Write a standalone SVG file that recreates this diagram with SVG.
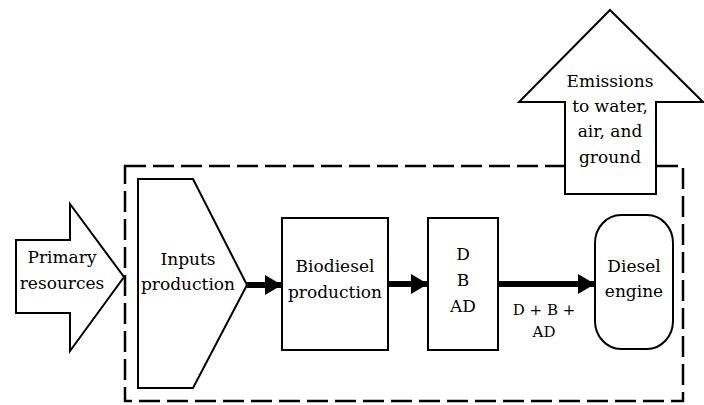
<svg xmlns="http://www.w3.org/2000/svg" width="704" height="405" viewBox="0 0 704 405">
<style>
.s{fill:#fff;stroke:#000;stroke-width:2}
.t{font-family:'DejaVu Serif','Noto Serif','Liberation Serif',serif;font-size:17px;fill:#000;text-anchor:middle}
.sm{font-size:15px}
.c{stroke:#000;stroke-width:6;fill:none}
.dash{fill:none;stroke:#000;stroke-width:2.5;stroke-dasharray:21 7}
</style>
<defs>
<marker id="ah" markerUnits="userSpaceOnUse" markerWidth="18" markerHeight="20" refX="17" refY="10" orient="auto">
<path d="M0,0 L17,10 L0,20 z" fill="#000"/>
</marker>
</defs>
<rect width="704" height="405" fill="#fff"/>
<g id="boundary">
<rect class="dash" x="125" y="166" width="558" height="235"/>
</g>
<g id="primary">
<polygon class="s" points="16,240 70,240 70,204 124,277 70,351 70,313 16,313"/>
<text class="t" x="62" y="263">Primary</text>
<text class="t" x="62" y="289">resources</text>
</g>
<g id="inputs">
<polygon class="s" points="138,179 193,179 247,285 193,388 138,388"/>
<text class="t" x="188" y="265">Inputs</text>
<text class="t" x="188" y="290">production</text>
</g>
<g id="biodiesel">
<rect class="s" x="282" y="218" width="106" height="132"/>
<text class="t" x="335" y="272">Biodiesel</text>
<text class="t" x="335" y="298">production</text>
</g>
<g id="dbad">
<rect class="s" x="428" y="218" width="70" height="132"/>
<text class="t" x="463" y="260">D</text>
<text class="t" x="463" y="286">B</text>
<text class="t" x="463" y="312">AD</text>
</g>
<g id="engine">
<rect class="s" x="595" y="215" width="78" height="134" rx="26" ry="28"/>
<text class="t" x="634" y="272">Diesel</text>
<text class="t" x="634" y="297">engine</text>
</g>
<g id="emissions">
<polygon class="s" points="610,10 703,102 656,102 656,194 565,194 565,102 519,102"/>
<text class="t" x="610" y="87">Emissions</text>
<text class="t" x="610" y="112">to water,</text>
<text class="t" x="610" y="137">air, and</text>
<text class="t" x="610" y="163">ground</text>
</g>
<g id="connectors">
<line class="c" x1="247" y1="285" x2="282" y2="285" marker-end="url(#ah)"/>
<line class="c" x1="388" y1="284" x2="428" y2="284" marker-end="url(#ah)"/>
<line class="c" x1="498" y1="284" x2="595" y2="284" marker-end="url(#ah)"/>
<text class="t sm" x="544" y="315">D + B +</text>
<text class="t sm" x="544" y="337">AD</text>
</g>
</svg>
